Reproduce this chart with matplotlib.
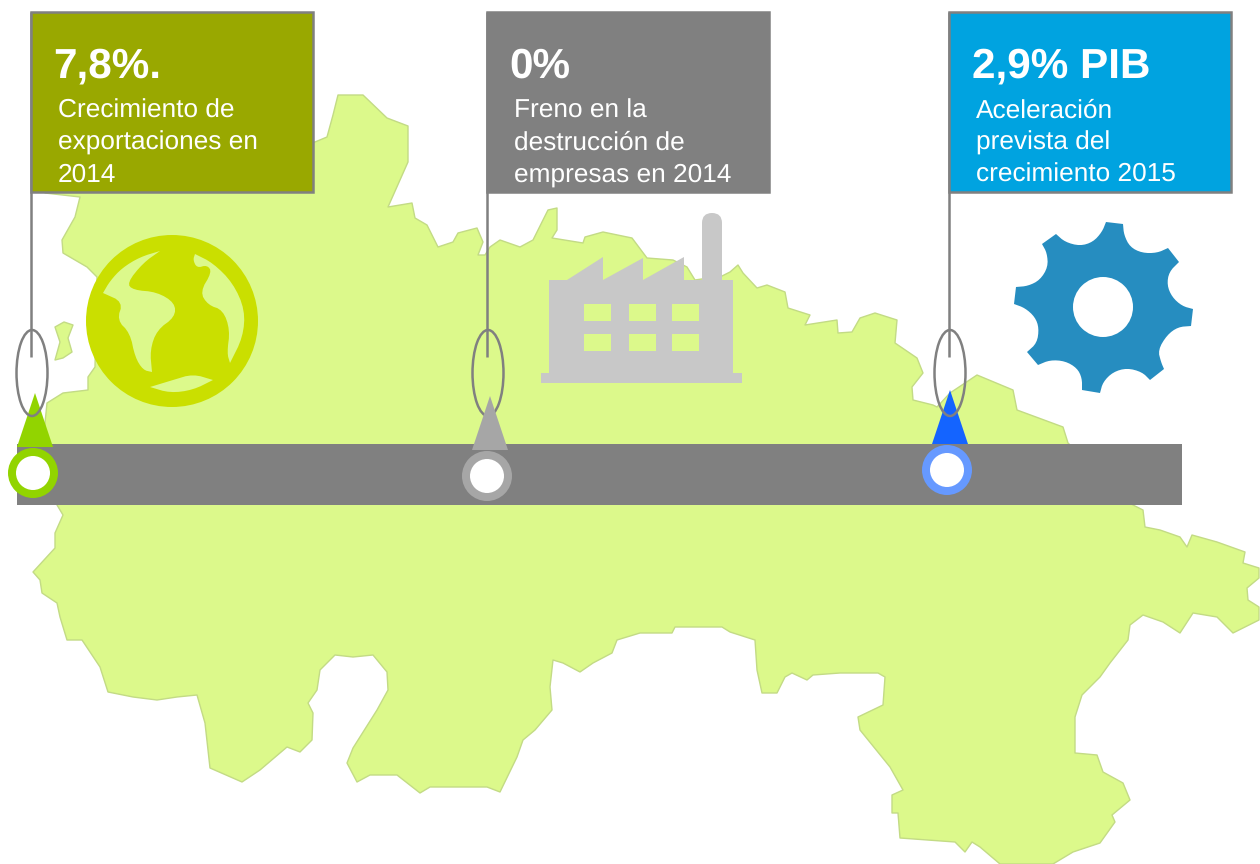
import numpy as np
import matplotlib
matplotlib.use("Agg")
import matplotlib.pyplot as plt
from matplotlib.patches import Polygon, Rectangle, Circle, Ellipse, FancyBboxPatch

plt.rcParams["font.family"] = ["Liberation Sans", "DejaVu Sans"]
plt.rcParams["text.hinting"] = "no_hinting"

# ------------------------- text -------------------------
titles = ["7,8%.", "0%", "2,9% PIB"]
captions = [
    ["Crecimiento de", "exportaciones en", "2014"],
    ["Freno en la", "destrucción de", "empresas en 2014"],
    ["Aceleración", "prevista del", "crecimiento 2015"],
]

# ------------------------- colours -------------------------
box_colors = ["#99A800", "#808080", "#00A3E0"]
arrow_colors = ["#92D400", "#A6A6A6", "#1464FF"]
ring_colors = ["#92D400", "#A6A6A6", "#6699FF"]
map_color = "#DCF98B"
map_edge = "#C3DB85"
grey = "#808080"

# ------------------------- map outline (pixels) -------------------------
map_outline = [
    (315, 142), (327, 137), (333, 115), (338, 95), (363, 95), (387, 118), (408, 126), (408, 162), (388, 207),
    (412, 203), (415, 218), (427, 225), (438, 247), (453, 242), (458, 233), (477, 228), (483, 242), (478, 255),
    (485, 255), (490, 247), (500, 240), (520, 247), (533, 240), (548, 210), (557, 208), (557, 230), (552, 238),
    (583, 243), (585, 237), (603, 232), (632, 238), (647, 258), (673, 260), (687, 267), (695, 280), (722, 276),
    (730, 272), (738, 265), (743, 273), (757, 288), (767, 285), (785, 292), (788, 308), (810, 315), (805, 325),
    (837, 320), (838, 333), (852, 332), (860, 318), (875, 313), (897, 320), (895, 343), (917, 358), (923, 373),
    (912, 387), (913, 400), (933, 405), (937, 407), (950, 393), (977, 375), (1013, 390), (1017, 410), (1063, 427),
    (1068, 443), (1133, 505), (1143, 510), (1145, 527), (1160, 530), (1180, 537), (1187, 547), (1192, 535),
    (1217, 542), (1245, 552), (1243, 563), (1259, 568), (1259, 578), (1247, 588), (1248, 600), (1259, 607),
    (1259, 620), (1233, 633), (1217, 617), (1193, 613), (1180, 633), (1163, 622), (1143, 615), (1130, 625),
    (1128, 640), (1110, 663), (1100, 677), (1082, 695), (1075, 717), (1075, 753), (1097, 755), (1103, 772),
    (1123, 783), (1130, 800), (1112, 815), (1115, 822), (1100, 843), (1073, 852), (1053, 864), (1000, 864),
    (980, 847), (972, 842), (965, 852), (955, 842), (900, 838), (898, 813), (892, 813), (892, 795), (903, 790),
    (890, 767), (860, 730), (858, 717), (883, 705), (885, 677), (878, 673), (840, 673), (813, 675), (807, 680),
    (792, 673), (785, 677), (777, 693), (762, 693), (757, 670), (755, 640), (730, 632), (722, 627), (675, 627),
    (672, 633), (640, 633), (617, 640), (612, 653), (593, 663), (580, 672), (563, 663), (553, 660), (550, 687),
    (552, 710), (535, 730), (523, 740), (517, 757), (500, 792), (487, 787), (430, 787), (420, 793), (397, 775),
    (370, 775), (357, 782), (347, 763), (353, 748), (377, 710), (388, 690), (387, 672), (373, 655), (353, 657),
    (335, 655), (320, 670), (317, 690), (308, 703), (313, 713), (312, 740), (300, 752), (287, 747), (260, 770),
    (242, 782), (210, 768), (205, 723), (197, 695), (177, 697), (157, 700), (133, 697), (108, 692), (100, 667),
    (82, 640), (67, 640), (60, 617), (57, 603), (42, 593), (40, 580), (33, 572), (55, 548), (55, 533), (63, 515),
    (57, 505), (43, 443), (47, 403), (63, 393), (88, 390), (88, 377), (95, 367), (97, 277), (87, 267), (63, 253),
    (62, 240), (75, 217), (80, 197), (45, 193), (45, 185), (200, 150),
]
island = [(55, 327), (64, 322), (73, 325), (68, 338), (72, 352), (63, 358), (55, 360), (60, 342)]

# ------------------------- globe, factory, gear (pixels) -------------------------
# a point given twice stays a sharp tip after the smoothing
globe_light_a = [(160, 251), (160, 251), (143, 263), (127, 283), (133, 290), (157, 292), (175, 303), (175, 317),
                 (157, 330), (150, 350), (152, 372), (152, 372), (143, 370), (135, 357), (130, 333), (117, 320),
                 (123, 302), (103, 293), (103, 293), (110, 281), (122, 268), (140, 257)]
globe_light_b = [(195, 254), (195, 254), (213, 263), (233, 283), (245, 310), (243, 337), (230, 363), (230, 363),
                 (227, 353), (230, 330), (223, 310), (208, 305), (200, 292), (212, 272), (207, 265), (197, 268),
                 (193, 260)]
globe_light_c = [(150, 387), (150, 387), (173, 380), (193, 374), (213, 380), (213, 380), (193, 390), (170, 393)]

roof = [(567, 280), (603, 257), (603, 280), (643, 258), (643, 280), (684, 257), (684, 280)]
window_x = [584, 629, 672]
window_y = [304, 334]

gear = [(1106, 222), (1106, 222), (1123, 224), (1123, 224), (1124, 235), (1130, 247), (1142, 253), (1157, 253),
        (1168, 248), (1168, 248), (1179, 262), (1179, 262), (1169, 272), (1167, 285), (1172, 297), (1182, 306),
        (1193, 309), (1193, 309), (1191, 326), (1191, 326), (1178, 327), (1167, 335), (1158, 350), (1161, 362),
        (1164, 369), (1164, 369), (1150, 380), (1150, 380), (1142, 372), (1127, 368), (1113, 372), (1103, 382),
        (1100, 393), (1100, 393), (1082, 390), (1082, 390), (1082, 378), (1077, 368), (1065, 361), (1050, 360),
        (1038, 365), (1038, 365), (1027, 352), (1027, 352), (1037, 343), (1039, 328), (1035, 317), (1025, 308),
        (1014, 304), (1014, 304), (1016, 287), (1016, 287), (1028, 286), (1040, 280), (1048, 267), (1047, 253),
        (1042, 244), (1042, 244), (1056, 234), (1056, 234), (1065, 242), (1080, 246), (1093, 242), (1102, 232)]


def chaikin(points, rounds=2):
    # corner cutting, so the hand traced icon shapes come out round
    pts = np.array(points, dtype=float)
    for _ in range(rounds):
        nxt = np.roll(pts, -1, axis=0)
        pts = np.column_stack([0.75 * pts + 0.25 * nxt, 0.25 * pts + 0.75 * nxt]).reshape(-1, 2)
    return pts


fig = plt.figure(figsize=(12.6, 8.64), dpi=100)
ax = fig.add_axes([0, 0, 1, 1])
ax.set_xlim(0, 1260)
ax.set_ylim(864, 0)
ax.axis("off")

# map
ax.add_patch(Polygon(map_outline, fc=map_color, ec=map_edge, lw=1, joinstyle="round", zorder=1))
ax.add_patch(Polygon(island, fc=map_color, ec=map_edge, lw=1, joinstyle="round", zorder=1))

# globe
ax.add_patch(Circle((172, 321), 86, fc="#CADF00", ec="none", zorder=2))
for shape in [globe_light_a, globe_light_b, globe_light_c]:
    ax.add_patch(Polygon(chaikin(shape), fc=map_color, ec="none", zorder=3))

# factory
fac = "#C8C8C8"
ax.add_patch(Rectangle((541, 373), 201, 10, fc=fac, ec="none", zorder=2))
ax.add_patch(Rectangle((549, 280), 184, 93, fc=fac, ec="none", zorder=2))
ax.add_patch(Polygon(roof, fc=fac, ec="none", zorder=2))
ax.add_patch(FancyBboxPatch((702, 213), 20, 80, boxstyle="round,pad=0,rounding_size=10", fc=fac, ec="none", zorder=2))
for wx in window_x:
    for wy in window_y:
        ax.add_patch(Rectangle((wx, wy), 27, 16.5, fc=map_color, ec="none", zorder=3))

# gear
ax.add_patch(Polygon(chaikin(gear), fc="#268DC0", ec="none", zorder=2))
ax.add_patch(Circle((1103, 307), 30, fc="white", ec="none", zorder=3))

# timeline bar
ax.add_patch(Rectangle((17, 444), 1165, 61, fc=grey, ec="none", zorder=4))

# flags
box_left = [31, 487, 949]
ell_x = [32, 488, 950]
tri_x = [35, 490, 950]
tri_top = [393, 396, 390]
tri_base = [447, 450, 444]
ring_x = [33, 487, 947]
ring_y = [473, 476, 470]
for i in range(3):
    x = box_left[i]
    ax.plot([x, x], [12, 357], color=grey, lw=1.8, solid_capstyle="butt", zorder=5)
    ax.add_patch(Polygon([(tri_x[i] - 18, tri_base[i]), (tri_x[i] + 18, tri_base[i]), (tri_x[i], tri_top[i])],
                         fc=arrow_colors[i], ec="none", zorder=6))
    ax.add_patch(Ellipse((ell_x[i], 373), 31, 86, fc="none", ec=grey, lw=1.8, zorder=5 if i == 1 else 7))
    ax.add_patch(Circle((ring_x[i], ring_y[i]), 25, fc=ring_colors[i], ec="none", zorder=8))
    ax.add_patch(Circle((ring_x[i], ring_y[i]), 17, fc="white", ec="none", zorder=9))
    ax.add_patch(Rectangle((x, 12), 282, 179.5, fc=box_colors[i], ec=grey, lw=1.8, zorder=5))
    ax.text(x + 22.5, 78, titles[i], color="white", fontsize=30.4, fontweight="bold", va="baseline", zorder=10)
    for j, line in enumerate(captions[i]):
        ax.text(x + 27, 118 + j * 32, line, color="white", fontsize=18.9, va="baseline", zorder=10)

plt.savefig("out.png", dpi=100)
